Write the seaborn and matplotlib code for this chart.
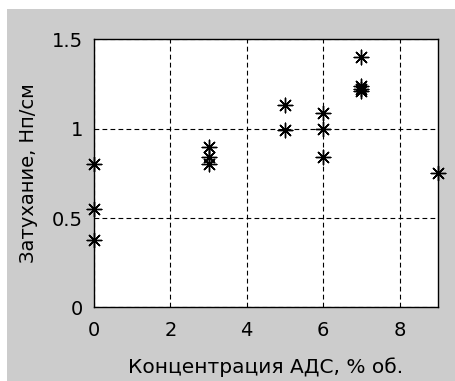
import matplotlib
matplotlib.use("Agg")
import matplotlib.pyplot as plt
import matplotlib.patches as mpatches
import seaborn as sns
import pandas as pd

conc = [0, 0, 0, 3, 3, 3, 5, 5, 6, 6, 6, 7, 7, 7, 7, 9]
atten = [0.80, 0.55, 0.38, 0.90, 0.84, 0.80, 1.13, 0.99, 1.09, 1.00, 0.84, 1.40, 1.24, 1.22, 1.21, 0.75]
xticks = [0, 2, 4, 6, 8]
yticks = [0, 0.5, 1, 1.5]
xlabel = "Концентрация АДС, % об."
ylabel = "Затухание, Нп/см"

df = pd.DataFrame({"x": conc, "y": atten})

sns.set_style("white")
plt.rcParams['font.family'] = ['DejaVu Sans']
plt.rcParams['text.color'] = 'black'
plt.rcParams['axes.labelcolor'] = 'black'
plt.rcParams['xtick.color'] = 'black'
plt.rcParams['ytick.color'] = 'black'

fig = plt.figure(figsize=(4.56, 3.81), dpi=100, facecolor="white")
fig.patches.append(mpatches.Rectangle((7 / 456, 0), 1 - 7 / 456, 1 - 9 / 381,
                                      transform=fig.transFigure, facecolor="#cccccc",
                                      edgecolor="none", zorder=-10))
ax = fig.add_axes([0.206, 0.193, 0.754, 0.704])
ax.set_zorder(1)
ax.set_facecolor("white")

sns.scatterplot(data=df, x="x", y="y", ax=ax, marker=(8, 2, 0), s=110,
                color="black", linewidth=1.0, edgecolor="black", clip_on=False, zorder=5)

ax.set_xlim(0, 9)
ax.set_ylim(0, 1.5)
ax.set_xticks(xticks)
ax.set_yticks(yticks)
ax.set_xticklabels([str(t) for t in xticks])
ax.set_yticklabels(["0", "0.5", "1", "1.5"])
ax.grid(True, color="black", linestyle=(0, (4.3, 2.9)), linewidth=0.8)
ax.set_axisbelow(True)
for sp in ax.spines.values():
    sp.set_visible(True)
    sp.set_color("black")
    sp.set_linewidth(1.0)
ax.tick_params(direction="in", length=4, color="black", labelcolor="black", labelsize=14)
ax.tick_params(axis="x", pad=9.5)
ax.tick_params(axis="y", pad=8)
ax.set_xlabel(xlabel, fontsize=14.5, labelpad=13, color="black")
ax.set_ylabel(ylabel, fontsize=14, labelpad=10, color="black")

fig.savefig("out.png", dpi=100, facecolor=fig.get_facecolor())
